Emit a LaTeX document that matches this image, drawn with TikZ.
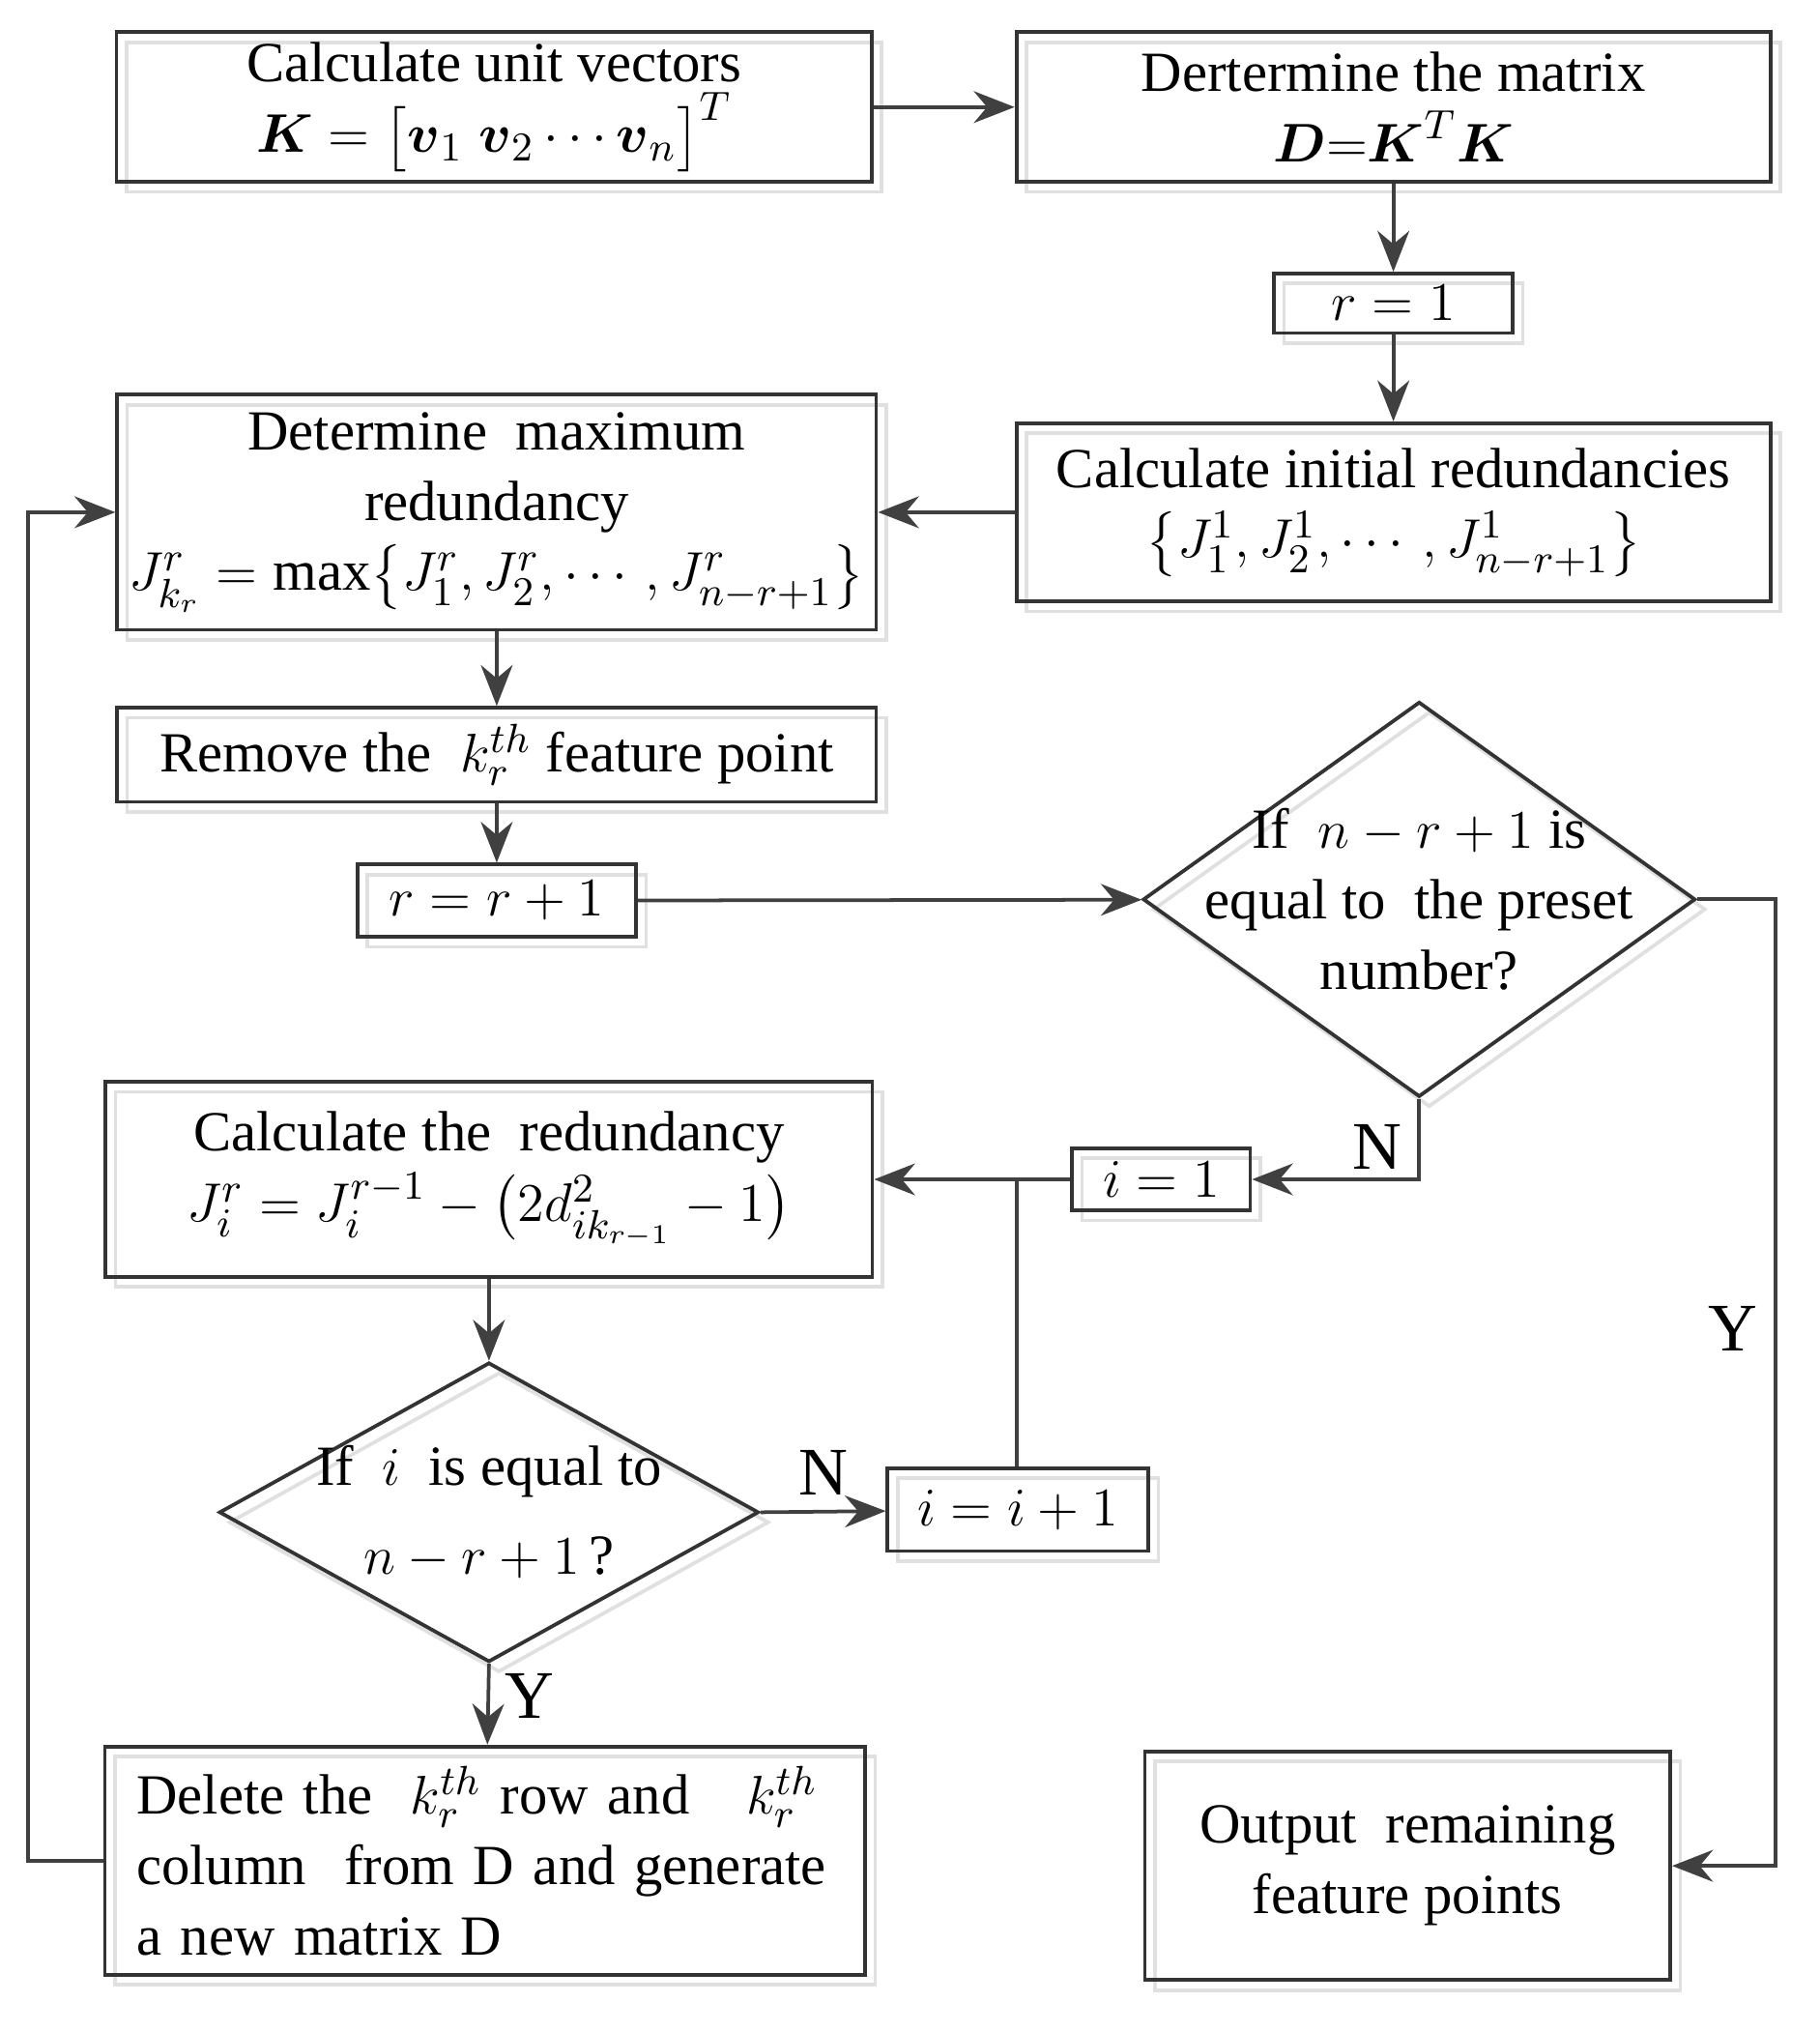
\documentclass[tikz,border=0pt]{standalone}
\usepackage{amsmath,amsbsy}
\usepackage{fontspec}
\setmainfont{Liberation Serif}
\usetikzlibrary{shapes.geometric,arrows.meta}
\tikzset{
  line/.style={draw=black!75,thick,-{Stealth[length=9pt,width=7pt]}},
  plain/.style={draw=black!75,thick},
  box/.style={draw=black!80,thick,align=center,inner sep=0pt,
    preaction={draw=black!12,thick,transform canvas={xshift=2.2pt,yshift=-2.2pt}}},
  dia/.style={diamond,draw=black!80,thick,inner sep=0pt,
    preaction={draw=black!12,thick,transform canvas={xshift=2.2pt,yshift=-2.2pt}}},
  lbl/.style={font=\fontsize{15}{18}\selectfont}
}
\begin{document}
\begin{tikzpicture}[x=0.01cm,y=-0.01cm,font=\fontsize{12.5}{15.5}\selectfont]
\useasboundingbox (0,0) rectangle (1410,1574);
  \begin{scope}[every node/.style={box}]
    \node (a) at (383,83) [minimum width=5.85cm,minimum height=1.16cm]
      {Calculate unit vectors\\ $\boldsymbol{K}=\bigl[\boldsymbol{v}_1\;\boldsymbol{v}_2\cdots\boldsymbol{v}_n\bigr]^T$};
    \node (b) at (1080,83) [minimum width=5.84cm,minimum height=1.16cm]
      {Dertermine the matrix\\ $\boldsymbol{D}{=}\boldsymbol{K}^T\boldsymbol{K}$};
    \node (c) at (1080,235) [minimum width=1.85cm,minimum height=0.46cm] {$r=1$};
    \node (e) at (1080,397) [minimum width=5.84cm,minimum height=1.38cm]
      {Calculate initial redundancies\\ $\bigl\{J_1^1,J_2^1,\cdots,J_{n-r+1}^1\bigr\}$};
    \node (d) at (385,397) [minimum width=5.88cm,minimum height=1.82cm]
      {Determine\ \ maximum\\ redundancy\\ $J_{k_r}^r=\max\bigl\{J_1^r,J_2^r,\cdots,J_{n-r+1}^r\bigr\}$};
    \node (f) at (385,585) [minimum width=5.88cm,minimum height=0.73cm]
      {Remove the\ \ $k_r^{th}$ feature point};
    \node (g) at (385,698) [minimum width=2.16cm,minimum height=0.56cm] {$r=r+1$};
    \node (i) at (379,914) [minimum width=5.94cm,minimum height=1.51cm]
      {Calculate the\ \ redundancy\\ $J_i^r=J_i^{r-1}-\bigl(2d_{ik_{r-1}}^2-1\bigr)$};
    \node (j) at (900,914) [minimum width=1.38cm,minimum height=0.48cm] {$i=1$};
    \node (l) at (789,1170) [minimum width=2.02cm,minimum height=0.64cm] {$i=i+1$};
    \node (m) at (376,1442) [minimum width=5.89cm,minimum height=1.77cm,align=left,text width=5.4cm]
      {Delete the\ \ $k_r^{th}$ row and\ \ \ $k_r^{th}$\\ column\ \ from D and generate\\ a new matrix D};
    \node (o) at (1091,1446) [minimum width=4.07cm,minimum height=1.77cm]
      {Output\ \ remaining\\ feature points};
  \end{scope}
  \begin{scope}[every node/.style={dia}]
    \node (h) at (1100,697) [minimum width=4.28cm,minimum height=3.06cm] {};
    \node (k) at (379,1172) [minimum width=4.18cm,minimum height=2.32cm] {};
  \end{scope}
  \node[align=center] (htext) at (h) {If\ \ $n-r+1$ is\\ equal to\ \ the preset\\ number?};
  \node[align=center] (ktext) at (k) {If\ \ $i$\ \ is equal to\\[4pt] $n-r+1$\,?};
  \coordinate (jn) at (788,914);
  \path[line] (a) -- (b);
  \path[line] (b) -- (c);
  \path[line] (c) -- (e);
  \path[line] (e) -- (d);
  \path[line] (d) -- (f);
  \path[line] (f) -- (g);
  \path[line] (g) -- (h);
  \path[line] (h.south) |- node[lbl,pos=0.3,left] {N} (j);
  \path[line] (h.east) -| (1376,1446) -- (o.east);
  \node[lbl] at (1343,1030) {Y};
  \path[line] (j) -- (i);
  \path[plain] (l.north -| jn) -- (jn);
  \path[line] (i) -- (k);
  \path[line] (k.east) -- node[lbl,above] {N} (l);
  \path[line] (k.south) -- node[lbl,right,pos=0.4] {Y} (m);
  \path[line] (m.west) -| (22,397) -- (d.west);
\end{tikzpicture}
\end{document}
